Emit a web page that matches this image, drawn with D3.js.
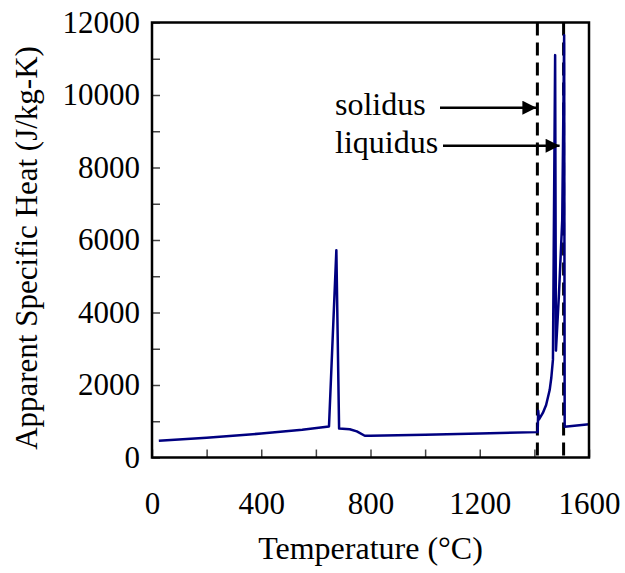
<!DOCTYPE html>
<html>
<head>
<meta charset="utf-8">
<script src="https://cdn.jsdelivr.net/npm/d3@7"></script>
<style>
  html, body { margin: 0; padding: 0; background: #fff; }
  svg { display: block; }
  text { font-family: "Liberation Serif", "Times New Roman", serif; fill: #000; }
</style>
</head>
<body>
<svg id="chart" width="625" height="573"></svg>
<script>
// Apparent specific heat vs temperature
const temperature = [25, 200, 400, 550, 648, 675, 685, 724, 750, 779, 800, 1000, 1200, 1412,
  1414, 1417, 1431, 1443, 1456, 1462, 1468, 1476, 1479, 1490, 1502, 1509, 1511, 1600];
const specificHeat = [460, 545, 660, 765, 855, 5720, 800, 780, 720, 600, 600, 630, 665, 700,
  1290, 1050, 1230, 1450, 1860, 2200, 2700, 11100, 2950, 4500, 6550, 11650, 850, 915];

const xTickValues = [0, 200, 400, 600, 800, 1000, 1200, 1400, 1600];
const xTickLabels = [0, 400, 800, 1200, 1600];
const yTickValues = [0, 1000, 2000, 3000, 4000, 5000, 6000, 7000, 8000, 9000, 10000, 11000, 12000];
const yTickLabels = [0, 2000, 4000, 6000, 8000, 10000, 12000];

const solidusT = 1411;
const liquidusT = 1507;
const markers = [
  { name: "solidus", t: solidusT, level: 9650 },
  { name: "liquidus", t: liquidusT, level: 8600 }
];

const svg = d3.select("#chart");
const x = d3.scaleLinear().domain([0, 1600]).range([152, 589]);
const y = d3.scaleLinear().domain([0, 12000]).range([457.5, 22.5]);

// x axis ticks (inside the frame)
const xAxis = d3.axisBottom(x)
  .tickValues(xTickValues)
  .tickSizeInner(-8).tickSizeOuter(0).tickPadding(34)
  .tickFormat(d => xTickLabels.includes(d) ? d : "");
const gx = svg.append("g").attr("transform", `translate(0,${y(0)})`).call(xAxis);
gx.select(".domain").remove();
gx.selectAll(".tick line").attr("stroke", "#444").attr("stroke-width", 1.5);
gx.selectAll(".tick text").style("font-size", "31px").style("font-family", "Liberation Serif");

const yAxis = d3.axisLeft(y)
  .tickValues(yTickValues)
  .tickSizeInner(-8).tickSizeOuter(0).tickPadding(12)
  .tickFormat(d => yTickLabels.includes(d) ? d : "");
const gy = svg.append("g").attr("transform", `translate(${x(0)},0)`).call(yAxis);
gy.select(".domain").remove();
gy.selectAll(".tick line").attr("stroke", "#444").attr("stroke-width", 1.5);
gy.selectAll(".tick text").style("font-size", "31px").style("font-family", "Liberation Serif");

// solidus / liquidus dashed lines
svg.selectAll("line.marker").data(markers).enter().append("line")
  .attr("class", "marker")
  .attr("x1", d => x(d.t)).attr("x2", d => x(d.t))
  .attr("y1", y(12000)).attr("y2", y(0))
  .attr("stroke", "#000").attr("stroke-width", 3)
  .attr("stroke-dasharray", "13,7");

// curve
const line = d3.line().x((d, i) => x(temperature[i])).y(d => y(d));
svg.append("path").datum(specificHeat)
  .attr("d", line)
  .attr("fill", "none")
  .attr("stroke", "#000080")
  .attr("stroke-width", 2.5)
  .attr("stroke-linejoin", "round");

// frame
svg.append("rect")
  .attr("x", x(0)).attr("y", y(12000))
  .attr("width", x(1600) - x(0)).attr("height", y(0) - y(12000))
  .attr("fill", "none").attr("stroke", "#000").attr("stroke-width", 2.5);

// annotation arrows
svg.append("defs").append("marker")
  .attr("id", "arrowhead")
  .attr("viewBox", "0 0 10 10")
  .attr("refX", 10).attr("refY", 5)
  .attr("markerWidth", 16).attr("markerHeight", 14)
  .attr("markerUnits", "userSpaceOnUse")
  .attr("orient", "auto")
  .append("path").attr("d", "M0,0 L10,5 L0,10 Z").attr("fill", "#000");

const labelX = 335;
const ann = svg.selectAll("g.ann").data(markers).enter().append("g").attr("class", "ann");
ann.append("text")
  .attr("x", labelX).attr("y", d => y(d.level) + 7)
  .style("font-size", "32px")
  .text(d => d.name);
ann.append("line")
  .attr("x1", (d, i) => i === 0 ? 440 : 443)
  .attr("x2", (d, i) => i === 0 ? x(d.t) - 1 : x(d.t) - 4)
  .attr("y1", d => y(d.level)).attr("y2", d => y(d.level))
  .attr("stroke", "#000").attr("stroke-width", 2.5)
  .attr("marker-end", "url(#arrowhead)");

// axis titles
svg.append("text")
  .attr("x", (x(0) + x(1600)) / 2).attr("y", 559)
  .attr("text-anchor", "middle")
  .style("font-size", "32px")
  .text("Temperature (°C)");
svg.append("text")
  .attr("transform", `translate(37,${(y(0) + y(12000)) / 2 + 8}) rotate(-90)`)
  .attr("text-anchor", "middle")
  .style("font-size", "31px")
  .text("Apparent Specific Heat (J/kg-K)");
</script>
</body>
</html>
